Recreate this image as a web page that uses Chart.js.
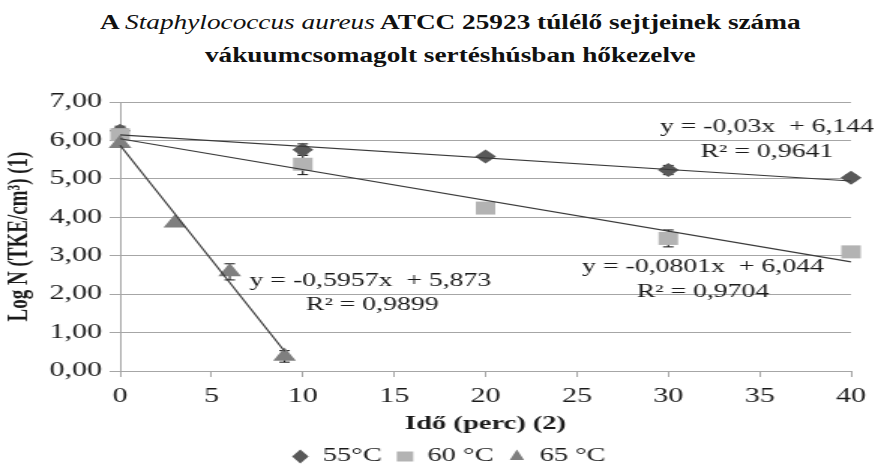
<!DOCTYPE html>
<html lang="hu">
<head>
<meta charset="utf-8">
<title>Staphylococcus aureus túlélés</title>
<script src="https://cdn.jsdelivr.net/npm/chart.js@4.4.1/dist/chart.umd.min.js"></script>
<style>
    html, body { margin: 0; padding: 0; background: #fff; overflow: hidden; }
    body { width: 878px; height: 464px; position: relative; }
    /* the reference is squeezed sideways, so the chart is drawn narrow and stretched */
    #stage { position: absolute; left: 0; top: 0; width: 585px; height: 464px; transform: scaleX(1.5009); transform-origin: 0 0; }
    #chart { display: block; }
    #title { position: absolute; left: 11px; top: 6px; width: 878px; text-align: center; }
    #title span.inner { display: inline-block; transform: scaleX(1.33); font-family: "Liberation Serif", "Times New Roman", serif; font-weight: bold; font-size: 20.5px; line-height: 33px; color: #111; white-space: nowrap; }
    #title i { font-weight: normal; }
</style>
</head>
<body>
<div id="title"><span class="inner">A <i>Staphylococcus aureus</i> ATCC 25923 túlélő sejtjeinek száma<br>vákuumcsomagolt sertéshúsban hőkezelve</span></div>
<div id="stage"><canvas id="chart" width="585" height="464"></canvas></div>
<script>
// Mért értékek (log N) és szórások
const seriesNames = ['55°C', '60 °C', '65 °C'];

const time55 = [0, 10, 20, 30, 40];
const logN55 = [6.25, 5.76, 5.58, 5.23, 5.03];
const sd55 = [0.12, 0.15, 0.08, 0.12, 0.08];

const time60 = [0, 10, 20, 30, 40];
const logN60 = [6.15, 5.38, 4.24, 3.45, 3.10];
const sd60 = [0.10, 0.27, 0.08, 0.22, 0.08];

const time65 = [0, 3, 6, 9];
const logN65 = [5.92, 3.85, 2.58, 0.38];
const sd65 = [0.10, 0.06, 0.21, 0.15];

// Trendvonalak végpontjai (idő, log N)
const trendX55 = [0, 40];
const trendY55 = [6.144, 4.944];
const trendX60 = [0, 40];
const trendY60 = [6.044, 2.840];
const trendX65 = [0, 9];
const trendY65 = [5.873, 0.512];

// Egyenletek szövege és helye (adat koordinátákban)
const noteTexts = ['y = -0,03x  + 6,144', 'R² = 0,9641', 'y = -0,0801x  + 6,044', 'R² = 0,9704', 'y = -0,5957x  + 5,873', 'R² = 0,9899'];
const noteAtX = [35.4, 35.4, 31.9, 31.9, 13.7, 13.8];
const noteAtY = [6.34, 5.69, 2.69, 2.04, 2.35, 1.72];

const yTickLabels = ['0,00', '1,00', '2,00', '3,00', '4,00', '5,00', '6,00', '7,00'];

function toPoints(xs, ys) {
    return xs.map(function(x, i) { return { x: x, y: ys[i] }; });
}

const textColor = '#1a1a1a';
const serif = '"Liberation Serif", "Times New Roman", serif';

// Hibasávok rajzolása a markerek alá
const errorBars = {
    id: 'errorBars',
    beforeDatasetsDraw: function(chart) {
        const ctx = chart.ctx;
        const xs = chart.scales.x;
        const ys = chart.scales.y;
        const groups = [[time55, logN55, sd55], [time60, logN60, sd60], [time65, logN65, sd65]];
        ctx.save();
        ctx.strokeStyle = '#111';
        ctx.lineWidth = 1;
        groups.forEach(function(g) {
            g[0].forEach(function(t, i) {
                const px = xs.getPixelForValue(t);
                const top = ys.getPixelForValue(g[1][i] + g[2][i]);
                const bot = ys.getPixelForValue(g[1][i] - g[2][i]);
                ctx.beginPath();
                ctx.moveTo(px, top); ctx.lineTo(px, bot);
                ctx.moveTo(px - 3.5, top); ctx.lineTo(px + 3.5, top);
                ctx.moveTo(px - 3.5, bot); ctx.lineTo(px + 3.5, bot);
                ctx.stroke();
            });
        });
        ctx.restore();
    }
};

// Egyenletek feliratai
const equationNotes = {
    id: 'equationNotes',
    afterDatasetsDraw: function(chart) {
        const ctx = chart.ctx;
        ctx.save();
        ctx.fillStyle = textColor;
        ctx.font = '18.5px ' + serif;
        ctx.textAlign = 'center';
        ctx.textBaseline = 'middle';
        noteTexts.forEach(function(txt, i) {
            ctx.fillText(txt, chart.scales.x.getPixelForValue(noteAtX[i]), chart.scales.y.getPixelForValue(noteAtY[i]));
        });
        ctx.restore();
    }
};

const trendStyle = {
    showLine: true,
    borderColor: '#3a3a3a',
    borderWidth: 1.2,
    pointRadius: 0,
    fill: false,
    clip: false,
    order: 0
};

new Chart(document.getElementById('chart'), {
    type: 'scatter',
    data: {
        datasets: [
            {
                label: seriesNames[0],
                data: toPoints(time55, logN55),
                pointStyle: 'rectRot',
                pointRadius: 7,
                backgroundColor: '#595959',
                borderColor: '#595959',
                borderWidth: 0,
                clip: false,
                order: 3
            },
            {
                label: seriesNames[1],
                data: toPoints(time60, logN60),
                pointStyle: 'rect',
                pointRadius: 9.2,
                backgroundColor: '#b3b3b3',
                borderColor: '#b3b3b3',
                borderWidth: 0,
                clip: false,
                order: 2
            },
            {
                label: seriesNames[2],
                data: toPoints(time65, logN65),
                pointStyle: 'triangle',
                pointRadius: 8.8,
                backgroundColor: '#7f7f7f',
                borderColor: '#7f7f7f',
                borderWidth: 0,
                clip: false,
                order: 1
            },
            Object.assign({ label: 'trend55', data: toPoints(trendX55, trendY55) }, trendStyle),
            Object.assign({ label: 'trend60', data: toPoints(trendX60, trendY60) }, trendStyle),
            Object.assign({ label: 'trend65', data: toPoints(trendX65, trendY65) }, trendStyle)
        ]
    },
    options: {
        responsive: false,
        animation: false,
        events: [],
        layout: {
            padding: { top: 102, left: 30, right: 17, bottom: -12 }
        },
        plugins: {
            legend: {
                position: 'bottom',
                labels: {
                    usePointStyle: true,
                    boxHeight: 10,
                    pointStyleWidth: 11,
                    padding: 10,
                    color: textColor,
                    font: { family: serif, size: 19 },
                    filter: function(item) { return item.text.indexOf('trend') !== 0; },
                    sort: function(a, b) { return a.datasetIndex - b.datasetIndex; }
                }
            },
            tooltip: { enabled: false }
        },
        scales: {
            x: {
                type: 'linear',
                min: 0,
                max: 40,
                afterFit: function(scale) { scale.height = 66; },
                grid: {
                    drawOnChartArea: false,
                    drawTicks: true,
                    tickLength: 6,
                    color: '#a6a6a6'
                },
                border: { color: '#a6a6a6' },
                ticks: {
                    stepSize: 5,
                    padding: 8,
                    color: textColor,
                    font: { family: serif, size: 20 },
                    maxRotation: 0
                },
                title: {
                    display: true,
                    text: 'Idő (perc) (2)',
                    color: textColor,
                    font: { family: serif, size: 19, weight: 'bold' },
                    padding: { top: 0, bottom: 1.6 }
                }
            },
            y: {
                min: 0,
                max: 7,
                afterFit: function(scale) { scale.width = 50; },
                grid: {
                    color: '#a6a6a6',
                    lineWidth: 1,
                    tickLength: 7
                },
                border: { color: '#a6a6a6' },
                ticks: {
                    stepSize: 1,
                    padding: 5,
                    color: textColor,
                    font: { family: serif, size: 20 },
                    callback: function(value, index) { return yTickLabels[index]; }
                },
                title: {
                    display: true,
                    text: 'Log N (TKE/cm³) (1)',
                    color: textColor,
                    font: { family: serif, size: 19, weight: 'bold' },
                    padding: { top: -28, bottom: 0 }
                }
            }
        }
    },
    plugins: [errorBars, equationNotes]
});
</script>
</body>
</html>
